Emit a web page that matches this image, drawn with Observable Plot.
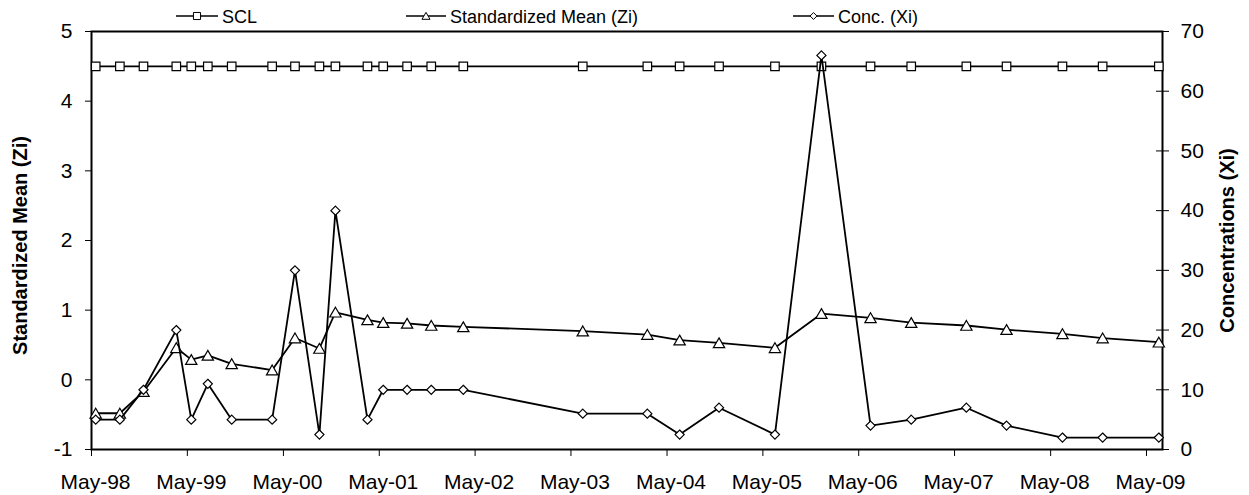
<!DOCTYPE html>
<html>
<head>
<meta charset="utf-8">
<script src="https://cdn.jsdelivr.net/npm/d3@7"></script>
<script src="https://cdn.jsdelivr.net/npm/@observablehq/plot@0.6"></script>
<style>
  html, body { margin: 0; padding: 0; background: #fff; }
  #wrap { position: relative; width: 1249px; height: 495px; font-family: "Liberation Sans", Arial, sans-serif; }
  #legend { position: absolute; left: 0; top: 0; }
  #chart { position: absolute; left: 0; top: 0; }
</style>
</head>
<body>
<div id="wrap">
  <div id="chart"></div>
  <svg id="legend" width="1249" height="30"></svg>
</div>
<script>
// ---- data ----
const sampleDates = [
  "1998-05-17","1998-08-17","1998-11-15","1999-03-20","1999-05-16","1999-07-18","1999-10-17",
  "2000-03-19","2000-06-14","2000-09-15","2000-11-15","2001-03-17","2001-05-16","2001-08-15",
  "2001-11-15","2002-03-17","2003-06-15","2004-02-16","2004-06-18","2004-11-15","2005-06-16",
  "2005-12-10","2006-06-15","2006-11-17","2007-06-15","2007-11-15","2008-06-15","2008-11-15",
  "2009-06-17"
];
const zi = [
  -0.48,-0.48,-0.17,0.46,0.29,0.35,0.23,
  0.14,0.60,0.45,0.97,0.86,0.82,0.81,
  0.78,0.76,0.70,0.65,0.57,0.53,0.46,
  0.95,0.89,0.82,0.78,0.72,0.66,0.60,
  0.54
];
const xi = [
  5,5,10,20,5,11,5,
  5,30,2.5,40,5,10,10,
  10,10,6,6,2.5,7,2.5,
  66,4,5,7,4,2,2,
  2
];
const scl = sampleDates.map(() => 4.5);
const seriesNames = ["SCL", "Standardized Mean (Zi)", "Conc. (Xi)"];
const leftTicks = [-1, 0, 1, 2, 3, 4, 5];
const rightTicks = [0, 10, 20, 30, 40, 50, 60, 70];
const tickYears = [1998,1999,2000,2001,2002,2003,2004,2005,2006,2007,2008,2009];
const leftTitle = "Standardized Mean (Zi)";
const rightTitle = "Concentrations (Xi)";

// ---- build ----
const parse = d3.utcParse("%Y-%m-%d");
const rows = sampleDates.map((d, i) => ({date: parse(d), zi: zi[i], xi: xi[i], scl: scl[i]}));
const ziMin = -1, ziMax = 5, xiMin = 0, xiMax = 70;
const xiToZi = v => ziMin + (v - xiMin) * (ziMax - ziMin) / (xiMax - xiMin);
const ziToXi = v => Math.round(xiMin + (v - ziMin) * (xiMax - xiMin) / (ziMax - ziMin));
const xTicks = tickYears.map(y => new Date(Date.UTC(y, 4, 1)));
const fmtX = d3.utcFormat("%b-%y");
const fmtL = d => d < 0 ? "-" + Math.abs(d) : String(d);
const font = "'Liberation Sans', Arial, sans-serif";

const chart = Plot.plot({
  width: 1249,
  height: 495,
  marginTop: 31,
  marginRight: 87,
  marginBottom: 46,
  marginLeft: 91,
  style: {fontFamily: font, background: "white", color: "black"},
  x: {type: "utc", domain: [new Date(Date.UTC(1998, 4, 1)), new Date(Date.UTC(2009, 6, 1))]},
  y: {domain: [ziMin, ziMax]},
  marks: [
    // axes
    Plot.axisX({ticks: xTicks, tickSize: 7, tickFormat: () => "", label: null, strokeWidth: 1}),
    Plot.axisX({ticks: xTicks, tickSize: 0, tickPadding: 25, tickFormat: fmtX, fontSize: 21, dx: 4, label: null}),
    Plot.axisY({anchor: "left", ticks: leftTicks, tickSize: 6, tickPadding: 13, tickFormat: fmtL, fontSize: 21, label: null}),
    Plot.axisY({anchor: "right", ticks: rightTicks.map(xiToZi), tickSize: 6, tickPadding: 12, tickFormat: ziToXi, fontSize: 21, label: null}),
    Plot.axisY({anchor: "right", ticks: rightTicks.map(xiToZi), tickSize: 7, dx: -7, tickFormat: () => "", label: null}),
    Plot.frame({stroke: "black", strokeWidth: 2}),
    // axis titles
    Plot.text([leftTitle], {frameAnchor: "left", textAnchor: "middle", dx: -71, dy: 5, rotate: -90, fontWeight: "bold", fontSize: 20, fill: "black"}),
    Plot.text([rightTitle], {frameAnchor: "right", textAnchor: "middle", dx: 65, rotate: -90, fontWeight: "bold", fontSize: 20, fill: "black"}),
    // SCL
    Plot.line(rows, {x: "date", y: "scl", stroke: "black", strokeWidth: 1.8}),
    Plot.dot(rows, {x: "date", y: "scl", symbol: "square", r: 4.8, fill: "white", stroke: "black", strokeWidth: 1.2}),
    // Zi
    Plot.line(rows, {x: "date", y: "zi", stroke: "black", strokeWidth: 1.8}),
    Plot.dot(rows, {x: "date", y: "zi", symbol: "triangle", r: 4.2, dy: 1.5, fill: "white", stroke: "black", strokeWidth: 1.2}),
    // Xi (secondary axis)
    Plot.line(rows, {x: "date", y: d => xiToZi(d.xi), stroke: "black", strokeWidth: 1.8}),
    Plot.dot(rows, {x: "date", y: d => xiToZi(d.xi), symbol: "diamond2", r: 4.1, fill: "white", stroke: "black", strokeWidth: 1.2})
  ]
});
document.getElementById("chart").appendChild(chart);

// ---- legend ----
const lg = d3.select("#legend");
const items = [
  {name: seriesNames[0], x0: 176, x1: 218, sym: d3.symbolSquare, size: 50},
  {name: seriesNames[1], x0: 406, x1: 446, sym: d3.symbolTriangle, size: 28},
  {name: seriesNames[2], x0: 793, x1: 834, sym: d3.symbolDiamond2, size: 30}
];
const ly = 16;
items.forEach(it => {
  lg.append("line").attr("x1", it.x0).attr("x2", it.x1).attr("y1", ly).attr("y2", ly)
    .attr("stroke", "black").attr("stroke-width", 1.6);
  lg.append("path").attr("d", d3.symbol(it.sym, it.size)())
    .attr("transform", `translate(${(it.x0 + it.x1) / 2},${ly + (it.sym === d3.symbolTriangle ? 1 : 0)})`)
    .attr("fill", "white").attr("stroke", "black").attr("stroke-width", 1);
  lg.append("text").attr("x", it.x1 + 4).attr("y", ly + 6.5)
    .attr("font-family", font).attr("font-size", 18).attr("fill", "black").text(it.name);
});
</script>
</body>
</html>
